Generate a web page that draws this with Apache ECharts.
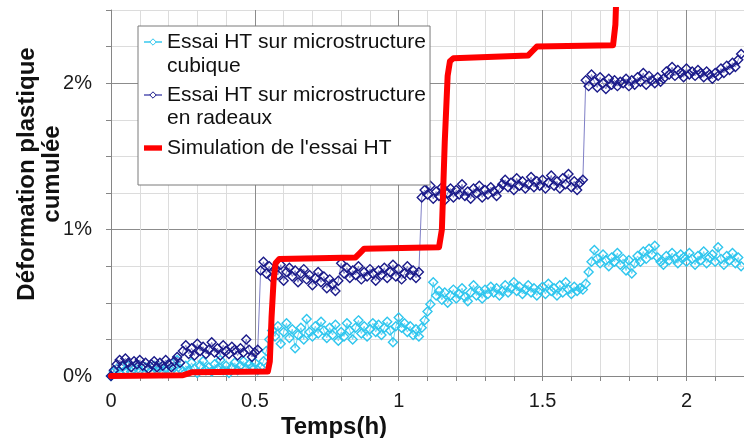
<!DOCTYPE html>
<html>
<head>
<meta charset="utf-8">
<script src="https://cdn.jsdelivr.net/npm/echarts@6/dist/echarts.min.js"></script>
<style>
html,body{margin:0;padding:0;background:#fff;}
#chart{width:744px;height:438px;}
</style>
</head>
<body>
<div id="chart"></div>
<script>
// Time samples of the measured curves (h)
const tMesure = [
0.00,0.01,0.02,0.03,0.04,0.05,0.06,0.07,0.08,0.09,
0.10,0.11,0.12,0.13,0.14,0.15,0.16,0.17,0.18,0.19,
0.20,0.21,0.22,0.23,0.24,0.25,0.26,0.27,0.28,0.29,
0.30,0.31,0.32,0.33,0.34,0.35,0.36,0.37,0.38,0.39,
0.40,0.41,0.42,0.43,0.44,0.45,0.46,0.47,0.48,0.49,
0.50,0.51,0.52,0.53,0.54,0.55,0.56,0.57,0.58,0.59,
0.60,0.61,0.62,0.63,0.64,0.65,0.66,0.67,0.68,0.69,
0.70,0.71,0.72,0.73,0.74,0.75,0.76,0.77,0.78,0.79,
0.80,0.81,0.82,0.83,0.84,0.85,0.86,0.87,0.88,0.89,
0.90,0.91,0.92,0.93,0.94,0.95,0.96,0.97,0.98,0.99,
1.00,1.01,1.02,1.03,1.04,1.05,1.06,1.07,1.08,1.09,
1.10,1.11,1.12,1.13,1.14,1.15,1.16,1.17,1.18,1.19,
1.20,1.21,1.22,1.23,1.24,1.25,1.26,1.27,1.28,1.29,
1.30,1.31,1.32,1.33,1.34,1.35,1.36,1.37,1.38,1.39,
1.40,1.41,1.42,1.43,1.44,1.45,1.46,1.47,1.48,1.49,
1.50,1.51,1.52,1.53,1.54,1.55,1.56,1.57,1.58,1.59,
1.60,1.61,1.62,1.63,1.64,1.65,1.66,1.67,1.68,1.69,
1.70,1.71,1.72,1.73,1.74,1.75,1.76,1.77,1.78,1.79,
1.80,1.81,1.82,1.83,1.84,1.85,1.86,1.87,1.88,1.89,
1.90,1.91,1.92,1.93,1.94,1.95,1.96,1.97,1.98,1.99,
2.00,2.01,2.02,2.03,2.04,2.05,2.06,2.07,2.08,2.09,
2.10,2.11,2.12,2.13,2.14,2.15,2.16,2.17,2.18,2.19
];

// Essai HT sur microstructure cubique (%)
const defCubique = [
0.00,0.03,0.05,0.02,0.06,0.04,0.07,0.03,0.05,0.08,
0.04,0.02,0.06,0.05,0.03,0.07,0.04,0.06,0.02,0.05,
0.08,0.04,0.06,0.11,0.05,0.03,0.07,0.04,0.09,0.05,
0.02,0.07,0.10,0.04,0.06,0.03,0.08,0.05,0.11,0.04,
0.07,0.02,0.06,0.09,0.04,0.07,0.10,0.05,0.08,0.06,
0.09,0.04,0.06,0.10,0.17,0.25,0.31,0.27,0.34,0.22,
0.30,0.36,0.26,0.32,0.19,0.28,0.33,0.25,0.39,0.30,
0.27,0.34,0.29,0.37,0.31,0.26,0.33,0.28,0.35,0.24,
0.30,0.27,0.36,0.31,0.25,0.33,0.38,0.29,0.34,0.27,
0.32,0.36,0.30,0.35,0.28,0.33,0.37,0.31,0.23,0.34,
0.40,0.33,0.36,0.30,0.34,0.28,0.32,0.27,0.33,0.38,
0.44,0.49,0.64,0.55,0.58,0.52,0.57,0.50,0.55,0.59,
0.53,0.56,0.60,0.54,0.51,0.57,0.62,0.55,0.58,0.53,
0.59,0.56,0.61,0.57,0.60,0.55,0.58,0.62,0.57,0.60,
0.64,0.58,0.61,0.56,0.59,0.62,0.57,0.60,0.55,0.59,
0.61,0.56,0.63,0.58,0.60,0.55,0.62,0.57,0.64,0.59,
0.56,0.61,0.58,0.60,0.59,0.63,0.71,0.78,0.86,0.80,
0.77,0.83,0.79,0.75,0.81,0.78,0.84,0.76,0.80,0.72,
0.79,0.70,0.77,0.82,0.78,0.85,0.80,0.87,0.83,0.89,
0.81,0.78,0.76,0.82,0.79,0.84,0.80,0.77,0.83,0.81,
0.78,0.84,0.80,0.76,0.82,0.79,0.85,0.77,0.81,0.83,
0.78,0.88,0.80,0.76,0.82,0.79,0.84,0.77,0.81,0.75
];

// Essai HT sur microstructure en radeaux (%)
const defRadeaux = [
0.00,0.04,0.08,0.11,0.07,0.12,0.09,0.06,0.10,0.08,
0.11,0.07,0.09,0.05,0.08,0.10,0.06,0.09,0.07,0.11,
0.08,0.06,0.10,0.13,0.09,0.17,0.21,0.15,0.19,0.14,
0.22,0.17,0.20,0.15,0.18,0.23,0.16,0.19,0.14,0.21,
0.17,0.15,0.20,0.18,0.14,0.19,0.16,0.25,0.18,0.13,
0.16,0.18,0.72,0.78,0.70,0.75,0.67,0.73,0.69,0.76,
0.65,0.71,0.74,0.68,0.72,0.64,0.70,0.73,0.66,0.69,
0.62,0.67,0.71,0.64,0.68,0.60,0.66,0.63,0.58,0.65,
0.77,0.70,0.74,0.67,0.72,0.69,0.75,0.66,0.71,0.68,
0.73,0.70,0.65,0.72,0.69,0.74,0.67,0.71,0.76,0.68,
0.73,0.66,0.70,0.75,0.69,0.72,0.67,0.71,1.22,1.27,
1.24,1.30,1.21,1.26,1.23,1.29,1.20,1.25,1.28,1.22,
1.27,1.24,1.31,1.23,1.26,1.21,1.28,1.25,1.30,1.22,
1.27,1.24,1.29,1.26,1.23,1.28,1.31,1.34,1.29,1.32,
1.27,1.35,1.30,1.33,1.28,1.31,1.36,1.29,1.33,1.30,
1.34,1.28,1.32,1.37,1.30,1.33,1.28,1.35,1.31,1.38,
1.29,1.33,1.27,1.32,1.34,2.02,1.98,2.06,2.01,1.97,
2.04,2.00,1.96,2.03,1.99,2.02,1.98,2.01,2.00,2.03,
1.98,2.02,1.99,2.04,2.01,2.07,1.99,2.05,2.02,2.00,
2.04,2.01,2.03,2.08,2.06,2.11,2.05,2.09,2.07,2.04,
2.10,2.06,2.08,2.05,2.09,2.07,2.04,2.08,2.06,2.03,
2.07,2.05,2.10,2.07,2.12,2.09,2.14,2.11,2.16,2.20
];

// Simulation de l'essai HT
const tSimulation = [0, 0.25, 0.28, 0.545, 0.552, 0.558, 0.565, 0.572, 0.585, 0.85, 0.865, 0.88,
  1.14, 1.15, 1.16, 1.17, 1.178, 1.19, 1.45, 1.465, 1.48, 1.745, 1.753, 1.758];
const defSimulation = [0, 0.005, 0.025, 0.03, 0.10, 0.40, 0.65, 0.77, 0.80, 0.81, 0.84, 0.87,
  0.88, 1.00, 1.60, 2.05, 2.15, 2.17, 2.19, 2.22, 2.25, 2.26, 2.40, 2.70];

const seriesNames = ['Essai HT sur microstructure cubique', 'Essai HT sur microstructure en radeaux', "Simulation de l'essai HT"];
const legendLine1 = ['Essai HT sur microstructure', 'Essai HT sur microstructure', "Simulation de l'essai HT"];
const legendLine2 = ['cubique', 'en radeaux', ''];

const xTitle = 'Temps(h)';
const yTitle = 'Déformation plastique\ncumulée';

const FONT = '"Liberation Sans", Arial, sans-serif';
const chart = echarts.init(document.getElementById('chart'), null, {renderer: 'canvas'});

function zip(xs, ys) { return xs.map((x, i) => [x, ys[i]]); }

const option = {
  animation: false,
  backgroundColor: '#fff',
  grid: { left: 111, top: 10, width: 633, height: 366, containLabel: false, outerBoundsMode: 'none' },
  xAxis: {
    type: 'value', min: 0, max: 2.2, interval: 0.1,
    axisLine: { show: true, lineStyle: { color: '#868686', width: 1 } },
    axisTick: { show: true, length: 5, lineStyle: { color: '#868686' } },
    axisLabel: {
      interval: 0, margin: 15, fontSize: 20, fontFamily: FONT, color: '#1a1a1a',
      formatter: function (v) { const r = Math.round(v * 2); return Math.abs(v * 2 - r) < 1e-6 ? String(r / 2) : ''; }
    },
    splitLine: { show: true, lineStyle: { color: ['#8c8c8c', '#dcdcdc', '#dcdcdc', '#dcdcdc', '#dcdcdc'], width: 1 } }
  },
  yAxis: {
    type: 'value', min: 0, max: 2.5, interval: 0.25,
    axisLine: { show: true, lineStyle: { color: '#868686', width: 1 } },
    axisTick: { show: true, length: 5, lineStyle: { color: '#868686' } },
    axisLabel: {
      interval: 0, margin: 19, fontSize: 20, fontFamily: FONT, color: '#1a1a1a',
      formatter: function (v) { const r = Math.round(v); return Math.abs(v - r) < 1e-6 ? r + '%' : ''; }
    },
    splitLine: { show: true, lineStyle: { color: ['#8c8c8c', '#dcdcdc', '#dcdcdc', '#dcdcdc'], width: 1 } }
  },
  legend: [
    {
      orient: 'vertical', left: 138, top: 26,
      data: [
        { name: seriesNames[0], itemStyle: { color: '#fff', borderWidth: 1 } },
        { name: seriesNames[1], itemStyle: { color: '#fff', borderWidth: 1 } },
        { name: seriesNames[2], icon: 'path://M0,0H20V6H0Z', itemStyle: { color: '#ff0000', borderWidth: 0 } }
      ],
      formatter: function (name) { return legendLine1[seriesNames.indexOf(name)]; },
      itemWidth: 18, itemHeight: 8, itemGap: 29,
      padding: [4, 4, 25, 5],
      backgroundColor: '#fff', borderColor: '#7a7a7a', borderWidth: 1,
      selectedMode: false,
      textStyle: { fontSize: 21, fontFamily: FONT, color: '#111', lineHeight: 24 }
    },
    {
      orient: 'vertical', left: 138, top: 54, z: 6,
      data: [seriesNames[0], seriesNames[1]],
      formatter: function (name) { return legendLine2[seriesNames.indexOf(name)]; },
      itemWidth: 18, itemHeight: 8, itemGap: 28,
      padding: [0, 0, 0, 5],
      itemStyle: { opacity: 0 }, lineStyle: { opacity: 0 },
      selectedMode: false,
      textStyle: { fontSize: 21, fontFamily: FONT, color: '#111', lineHeight: 24 }
    }
  ],
  graphic: [
    {
      type: 'text', x: 334, y: 427, z: 10,
      style: { text: xTitle, font: 'bold 24px ' + FONT, fill: '#111', align: 'center', verticalAlign: 'middle', textAlign: 'center', textVerticalAlign: 'middle' }
    },
    {
      type: 'text', x: 40, y: 174, rotation: Math.PI / 2, z: 10,
      style: { text: yTitle, font: 'bold 24px ' + FONT, fill: '#111', lineHeight: 25, align: 'center', verticalAlign: 'middle', textAlign: 'center', textVerticalAlign: 'middle' }
    }
  ],
  series: [
    {
      name: seriesNames[0], type: 'line', data: zip(tMesure, defCubique),
      symbol: 'diamond', symbolSize: 9, showSymbol: true,
      itemStyle: { color: 'rgba(0,0,0,0)', borderColor: '#2fc6ee', borderWidth: 1.4 },
      lineStyle: { color: '#6ad6f2', width: 1 },
      emphasis: { disabled: true }, z: 2
    },
    {
      name: seriesNames[1], type: 'line', data: zip(tMesure, defRadeaux),
      symbol: 'diamond', symbolSize: 9, showSymbol: true,
      itemStyle: { color: 'rgba(0,0,0,0)', borderColor: '#1b1b8a', borderWidth: 1.4 },
      lineStyle: { color: '#7f7fc6', width: 1 },
      emphasis: { disabled: true }, z: 3
    },
    {
      name: seriesNames[2], type: 'line', data: zip(tSimulation, defSimulation),
      symbol: 'none', showSymbol: false,
      itemStyle: { color: '#ff0000' },
      lineStyle: { color: '#ff0000', width: 6, join: 'round', cap: 'round' },
      emphasis: { disabled: true }, z: 4
    }
  ]
};
chart.setOption(option);
</script>
</body>
</html>
